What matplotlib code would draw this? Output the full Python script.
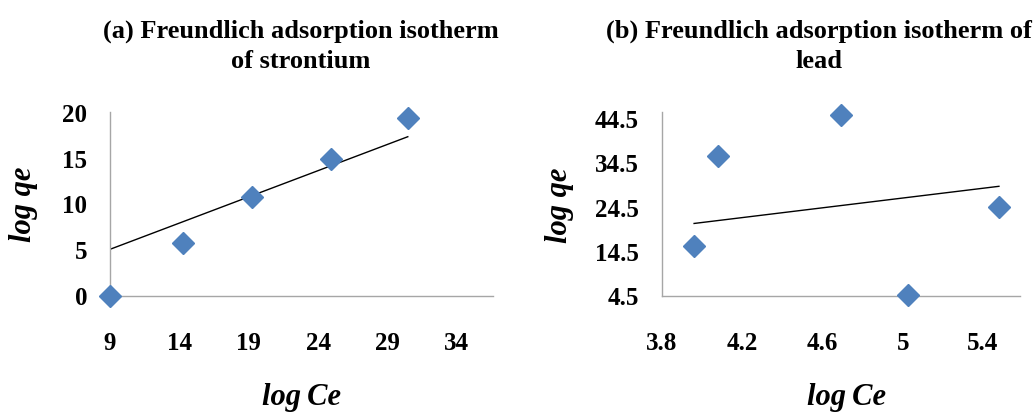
import matplotlib
matplotlib.use("Agg")
import matplotlib.pyplot as plt

# Strontium (panel a)
sr_log_ce = [9.0, 14.27, 19.24, 24.95, 30.46]
sr_log_qe = [0.0, 5.76, 10.8, 14.97, 19.4]
sr_trend_x = [9.0, 30.46]
sr_trend_y = [5.1, 17.4]
sr_xticks = [9, 14, 19, 24, 29, 34]
sr_yticks = [0, 5, 10, 15, 20]

# Lead (panel b)
pb_log_ce = [3.96, 4.077, 4.694, 5.025, 5.48]
pb_log_qe = [15.8, 36.1, 45.5, 4.7, 24.66]
pb_trend_x = [3.96, 5.48]
pb_trend_y = [20.9, 29.3]
pb_xticks = [3.8, 4.2, 4.6, 5.0, 5.4]
pb_xticklabels = ["3.8", "4.2", "4.6", "5", "5.4"]
pb_yticks = [4.5, 14.5, 24.5, 34.5, 44.5]

W, H = 1035, 412
fig = plt.figure(figsize=(W / 100, H / 100), dpi=100)
plt.rcParams["font.family"] = ["Liberation Serif", "DejaVu Serif"]

MARKER_COLOR = "#4F81BD"
AXIS_COLOR = "#A6A6A6"


def px_rect(left, right, top, bottom):
    return [left / W, 1 - bottom / H, (right - left) / W, (bottom - top) / H]


def style_axes(ax):
    for side in ("top", "right"):
        ax.spines[side].set_visible(False)
    for side in ("left", "bottom"):
        ax.spines[side].set_color(AXIS_COLOR)
        ax.spines[side].set_linewidth(1.0)
    ax.tick_params(axis="both", length=0, labelsize=18)
    ax.tick_params(axis="x", pad=26)
    ax.tick_params(axis="y", pad=16.5)
    for lab in ax.get_xticklabels() + ax.get_yticklabels():
        lab.set_fontweight("bold")


ax1 = fig.add_axes(px_rect(110, 493, 112, 296))
ax1.plot(sr_trend_x, sr_trend_y, color="black", lw=1.0, zorder=2)
ax1.plot(sr_log_ce, sr_log_qe, linestyle="none", marker="D", ms=11,
         color=MARKER_COLOR, zorder=3, clip_on=False)
ax1.set_xlim(9, 36.6)
ax1.set_ylim(0, 20.1)
ax1.set_xticks(sr_xticks)
ax1.set_yticks(sr_yticks)
style_axes(ax1)

ax2 = fig.add_axes(px_rect(662, 1020, 112, 296))
ax2.plot(pb_trend_x, pb_trend_y, color="black", lw=1.0, zorder=2)
ax2.plot(pb_log_ce, pb_log_qe, linestyle="none", marker="D", ms=11,
         color=MARKER_COLOR, zorder=3, clip_on=False)
ax2.set_xlim(3.8, 5.585)
ax2.set_ylim(4.5, 46.1)
ax2.set_xticks(pb_xticks)
ax2.set_xticklabels(pb_xticklabels)
ax2.set_yticks(pb_yticks)
style_axes(ax2)

title_kw = dict(ha="center", va="center", fontsize=19, fontweight="bold",
                linespacing=1.4, multialignment="center")
fig.text(301 / W, 1 - 46 / H,
         "(a) Freundlich adsorption isotherm\nof strontium", **title_kw)
fig.text(819 / W, 1 - 46 / H,
         "(b) Freundlich adsorption isotherm of\nlead", **title_kw)

label_kw = dict(ha="center", va="center", fontsize=22, fontweight="bold",
                fontstyle="italic")
fig.text(302 / W, 1 - 398 / H, "log\u2009Ce", **label_kw)
fig.text(846 / W, 1 - 398 / H, "log\u2009Ce", **label_kw)
fig.text(23 / W, 1 - 204 / H, "log qe", rotation=90, **label_kw)
fig.text(560 / W, 1 - 205 / H, "log qe", rotation=90, **label_kw)

fig.savefig("out.png", dpi=100)
